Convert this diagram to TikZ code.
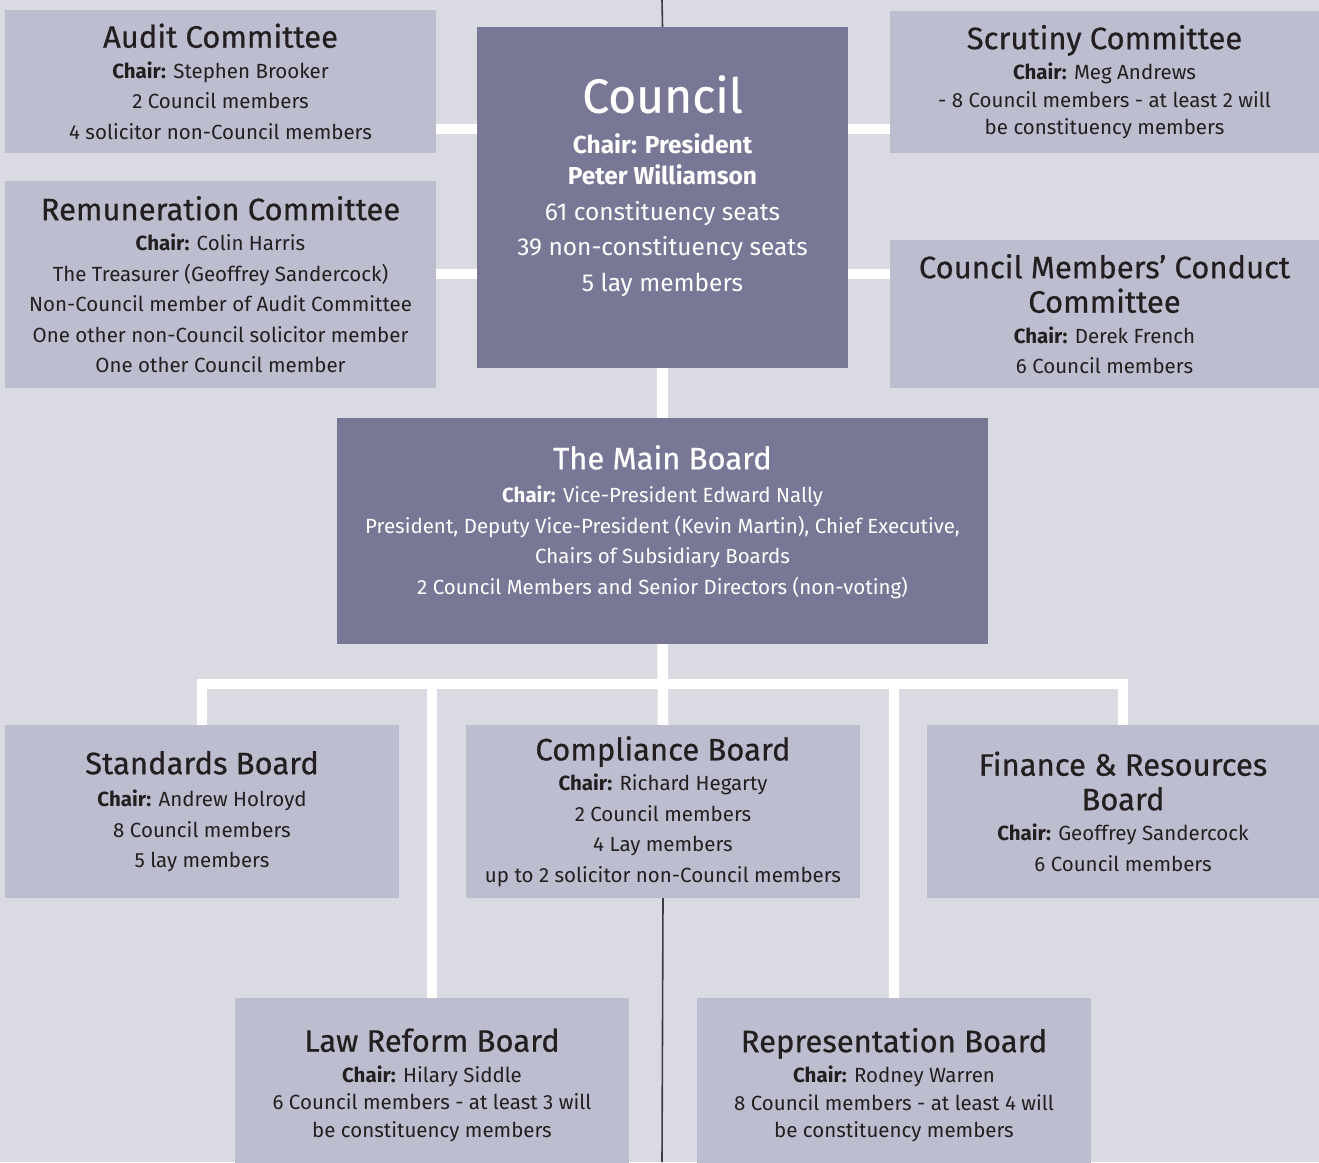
\documentclass[tikz,border=0pt]{standalone}
\usepackage{fontspec}
\setmainfont{Fira Sans}
\newfontfamily\headfont{Fira Sans}[FakeBold=0.6]
\usepackage{xcolor}
\usetikzlibrary{calc}

\definecolor{paper}{HTML}{DADAE3}
\definecolor{boxlight}{HTML}{BCBDCE}
\definecolor{boxdark}{HTML}{787896}
\definecolor{ink}{HTML}{231F20}
\definecolor{rulegrey}{HTML}{3C3C44}

\newcommand{\ttl}{\headfont\fontsize{31}{35}\selectfont}
\newcommand{\bdy}{\fontsize{20.5}{30.5}\selectfont}
\newcommand{\chair}{\textbf{Chair:} }

\begin{document}
\begin{tikzpicture}[x=1pt, y=-1pt,
    lightbox/.style={fill=boxlight, text=ink, align=center, inner sep=0pt, font=\bdy},
    darkbox/.style={fill=boxdark, text=white, align=center, inner sep=0pt, font=\bdy},
    link/.style={draw=white, line width=10.5pt},
    rule/.style={draw=rulegrey, line width=1.6pt}]
\fill[paper] (0,0) rectangle (1319,1162);
\useasboundingbox (0,0) rectangle (1319,1162);

\coordinate (top) at (662,0);
\coordinate (bottom) at (662,1162);

% committees beside the council
\node[lightbox, minimum width=431pt, minimum height=143pt] (audit) at (220.5,81.5)
    {{\ttl Audit Committee}\\ \chair Stephen Brooker\\ 2 Council members\\ 4 solicitor non-Council members};
\node[lightbox, minimum width=431pt, minimum height=207pt] (remun) at (220.5,284.5)
    {{\ttl Remuneration Committee}\\ \chair Colin Harris\\ The Treasurer (Geoffrey Sandercock)\\
     Non-Council member of Audit Committee\\ One other non-Council solicitor member\\ One other Council member};
\node[lightbox, minimum width=429pt, minimum height=142pt] (scrutiny) at (1104.5,82)
    {{\ttl Scrutiny Committee}\\ \chair Meg Andrews\\[-3pt] - 8 Council members - at least 2 will\\[-3pt] be constituency members};
\node[lightbox, minimum width=429pt, minimum height=148pt] (conduct) at (1104.5,314)
    {{\ttl Council Members’ Conduct}\\[4pt] {\ttl Committee}\\ \chair Derek French\\ 6 Council members};

\node[darkbox, minimum width=371pt, minimum height=341pt] (council) at (662.5,197.5)
    {{\headfont\fontsize{48}{50}\selectfont Council}\\[10pt]
     {\fontsize{24.5}{32}\selectfont\bfseries Chair: President}\\[1pt]
     {\fontsize{24.5}{32}\selectfont\bfseries Peter Williamson}\\[5pt]
     {\fontsize{24.5}{32}\selectfont 61 constituency seats}\\[5pt]
     {\fontsize{24.5}{32}\selectfont 39 non-constituency seats}\\[5pt]
     {\fontsize{24.5}{32}\selectfont 5 lay members}\\[-2pt]};

\node[darkbox, minimum width=651pt, minimum height=226pt] (main) at (662.5,531)
    {{\ttl The Main Board}\\[3pt] \chair Vice-President Edward Nally\\
     President, Deputy Vice-President (Kevin Martin), Chief Executive,\\
     Chairs of Subsidiary Boards\\ 2 Council Members and Senior Directors (non-voting)\\[-8pt]};

% boards under the main board
\node[lightbox, minimum width=394pt, minimum height=173pt] (standards) at (202,811.5)
    {{\ttl Standards Board}\\[2pt] \chair Andrew Holroyd\\ 8 Council members\\ 5 lay members};
\node[lightbox, minimum width=394pt, minimum height=173pt] (compliance) at (663,811.5)
    {{\ttl Compliance Board}\\ \chair Richard Hegarty\\ 2 Council members\\ 4 Lay members\\ up to 2 solicitor non-Council members};
\node[lightbox, minimum width=392pt, minimum height=173pt] (finance) at (1123,811.5)
    {{\ttl Finance \& Resources}\\[4pt] {\ttl Board}\\ \chair Geoffrey Sandercock\\ 6 Council members};
\node[lightbox, minimum width=394pt, minimum height=174pt] (lawreform) at (432,1085)
    {{\ttl Law Reform Board}\\ \chair Hilary Siddle\\[-3pt] 6 Council members - at least 3 will\\[-3pt] be constituency members};
\node[lightbox, minimum width=394pt, minimum height=174pt] (represent) at (894,1085)
    {{\ttl Representation Board}\\ \chair Rodney Warren\\[-3pt] 8 Council members - at least 4 will\\[-3pt] be constituency members};

% thin rule through the centre
\draw[rule] (top) -- (council.north);
\draw[rule] (compliance.south) -- (bottom);

% white links
\draw[link] ([yshift=-47.5pt]audit.east) -- ([yshift=-47.5pt]audit.east -| council.west);
\draw[link] ([yshift=10.5pt]remun.east) -- ([yshift=10.5pt]remun.east -| council.west);
\draw[link] ([yshift=-47pt]scrutiny.west) -- ([yshift=-47pt]scrutiny.west -| council.east);
\draw[link] ([yshift=40pt]conduct.west) -- ([yshift=40pt]conduct.west -| council.east);
\draw[link] (council.south) -- (main.north);

\coordinate (bus) at (662.5,684);
\draw[link] (main.south) -- (compliance.north);
\draw[link, line join=miter] (standards.north) |- (bus) -| (finance.north);
\draw[link] (lawreform.north) -- (lawreform.north |- bus);
\draw[link] (represent.north) -- (represent.north |- bus);
\end{tikzpicture}
\end{document}
